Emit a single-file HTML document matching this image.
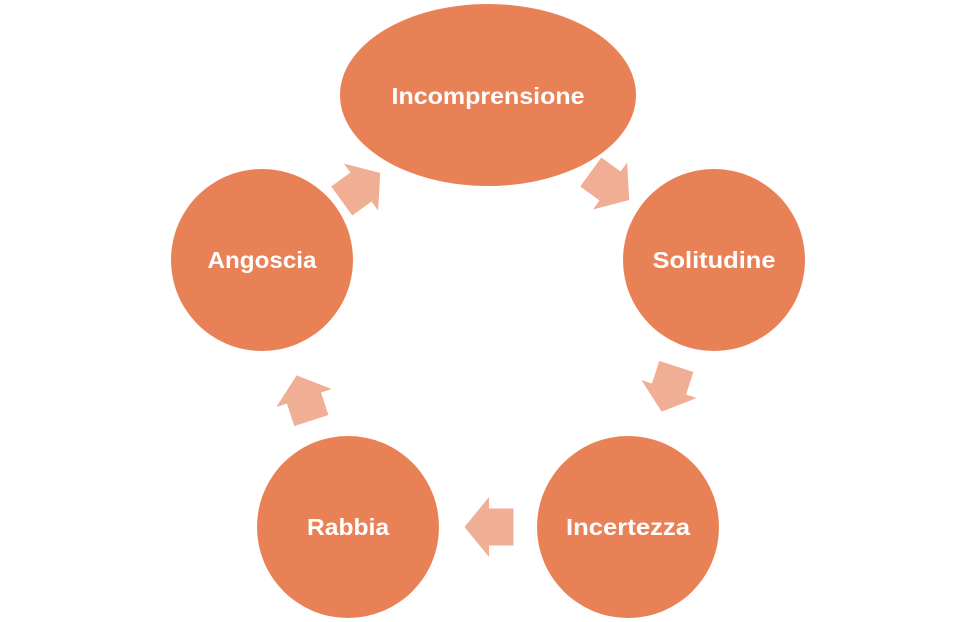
<!DOCTYPE html>
<html><head><style>body{margin:0;background:#fff}svg{display:block}</style></head><body>
<svg width="976" height="622" viewBox="0 0 976 622" xmlns="http://www.w3.org/2000/svg">
<defs><polygon id="ar" points="-24.5,-18.5 0,-18.5 0,-30 24.5,0 0,30 0,18.5 -24.5,18.5" fill="#f0af94"/></defs>
<g fill="#e98157">
<ellipse cx="488" cy="95" rx="148" ry="91"/>
<circle cx="714" cy="260" r="91"/>
<circle cx="262" cy="260" r="91"/>
<circle cx="628" cy="527" r="91"/>
<circle cx="348" cy="527" r="91"/>
</g>
<use href="#ar" transform="translate(489,527) rotate(180)"/>
<use href="#ar" transform="translate(361,187) rotate(-36) scale(0.97)"/>
<use href="#ar" transform="translate(610,186) rotate(36) scale(0.97)"/>
<use href="#ar" transform="translate(669,389) rotate(108) scale(0.97)"/>
<use href="#ar" transform="translate(304,398) rotate(-108) scale(0.97)"/>
<g fill="#fff" font-family="Liberation Sans, sans-serif" font-weight="bold" font-size="23" text-anchor="middle" lengthAdjust="spacingAndGlyphs">
<text x="488" y="104" textLength="193" lengthAdjust="spacingAndGlyphs">Incomprensione</text>
<text x="714" y="268" textLength="123" lengthAdjust="spacingAndGlyphs">Solitudine</text>
<text x="262" y="268" textLength="109" lengthAdjust="spacingAndGlyphs">Angoscia</text>
<text x="628" y="535" textLength="124" lengthAdjust="spacingAndGlyphs">Incertezza</text>
<text x="348" y="535" textLength="82" lengthAdjust="spacingAndGlyphs">Rabbia</text>
</g>
</svg>
</body></html>
